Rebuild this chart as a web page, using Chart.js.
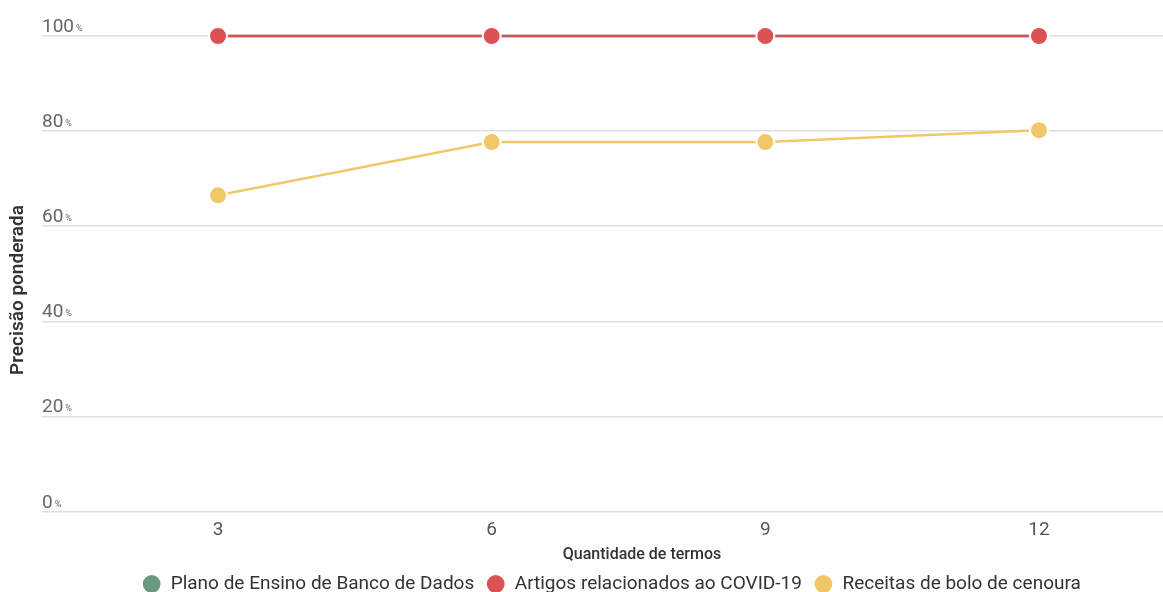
<!DOCTYPE html>
<html>
<head>
<meta charset="utf-8">
<script src="https://cdn.jsdelivr.net/npm/chart.js@4/dist/chart.umd.min.js"></script>
<style>
  html, body { margin: 0; padding: 0; background: #fff; overflow: hidden; }
  #wrap { width: 1163px; height: 592px; position: relative; }
</style>
</head>
<body>
<div id="wrap"><canvas id="chart"></canvas></div>
<script>
// Precisão ponderada x quantidade de termos

const termos = [3, 6, 9, 12];
const planoEnsino = [100, 100, 100, 100];
const artigosCovid = [100, 100, 100, 100];
const receitasBolo = [66.5, 77.7, 77.7, 80.2];
const yTicks = [0, 20, 40, 60, 80, 100];

// the big points should not shrink the plot area (grid runs to the edge)
Chart.registry.getController('line').prototype.getMaxOverflow = function () { return 0; };

function toPoints(values) {
    return termos.map((t, i) => ({ x: t, y: values[i] }));
}

function makeSeries(label, values, color, order) {
    return {
        label: label,
        data: toPoints(values),
        borderColor: color,
        backgroundColor: color,
        pointBackgroundColor: color,
        pointBorderColor: '#ffffff',
        pointBorderWidth: 2,
        pointRadius: 9,
        pointHoverRadius: 9,
        borderWidth: 2.5,
        tension: 0,
        clip: false,
        order: order
    };
}

// y labels sit just above their grid line, with a small "%"; axis titles too
const axisText = {
    id: 'axisText',
    beforeUpdate(chart) {
        // legend: keep item spacing but a shorter box, shifted a bit right
        const lg = chart.legend;
        if (lg && !lg._patched) {
            const fit = lg.fit;
            lg.fit = function () {
                fit.call(this);
                this.height = 29.5;
            };
            const draw = lg.draw;
            lg.draw = function () {
                this.ctx.save();
                this.ctx.translate(30, 0);
                draw.call(this);
                this.ctx.restore();
            };
            lg._patched = true;
        }
    },
    afterDraw(chart) {
        const ctx = chart.ctx;
        const y = chart.scales.y;
        const x = chart.scales.x;
        const left = 42;
        ctx.save();
        ctx.fillStyle = '#666';
        ctx.textBaseline = 'alphabetic';
        ctx.textAlign = 'left';
        yTicks.forEach(v => {
            const py = y.getPixelForValue(v) - 4;
            ctx.font = '19px Roboto';
            const txt = String(v);
            ctx.fillText(txt, left, py);
            const w = ctx.measureText(txt).width;
            ctx.font = '9px Roboto';
            ctx.fillText('%', left + w + 2, py - 1);
        });
        // x title
        ctx.fillStyle = '#333';
        ctx.textAlign = 'center';
        ctx.textBaseline = 'middle';
        ctx.font = '500 16px Roboto';
        ctx.fillText('Quantidade de termos', 642, x.bottom - 8);
        // y title
        ctx.translate(18, 290);
        ctx.rotate(-Math.PI / 2);
        ctx.font = '600 19px Roboto';
        ctx.fillText('Precisão ponderada', 0, 0);
        ctx.restore();
    }
};

new Chart(document.getElementById('chart'), {
    type: 'line',
    data: {
        datasets: [
            makeSeries('Plano de Ensino de Banco de Dados', planoEnsino, '#6b9a80', 3),
            makeSeries('Artigos relacionados ao COVID-19', artigosCovid, '#dc5254', 2),
            makeSeries('Receitas de bolo de cenoura', receitasBolo, '#f0c86a', 1)
        ]
    },
    options: {
        responsive: true,
        maintainAspectRatio: false,
        animation: false,
        layout: { padding: { top: 36, right: 0, left: 0, bottom: 0 } },
        plugins: {
            legend: {
                position: 'bottom',
                labels: {
                    usePointStyle: true,
                    pointStyle: 'circle',
                    boxWidth: 20,
                    boxHeight: 14,
                    padding: 12,
                    color: '#333',
                    font: { family: 'Roboto', size: 19 },
                    sort: (a, b) => a.datasetIndex - b.datasetIndex
                }
            },
            tooltip: { enabled: false }
        },
        scales: {
            x: {
                type: 'linear',
                min: 1.07,
                max: 13.36,
                afterBuildTicks(scale) {
                    scale.ticks = termos.map(v => ({ value: v }));
                },
                afterFit(scale) {
                    scale.paddingLeft = 0;
                    scale.paddingRight = 0;
                    scale.height = 51;
                },
                grid: { display: false, drawTicks: false },
                border: { display: false },
                ticks: {
                    color: '#555',
                    padding: 7,
                    font: { family: 'Roboto', size: 19 }
                }
            },
            y: {
                min: 0,
                max: 100,
                afterBuildTicks(scale) {
                    scale.ticks = yTicks.map(v => ({ value: v }));
                },
                afterFit(scale) {
                    scale.width = 42;
                },
                grid: { color: '#e0e0e0', lineWidth: 1.5, drawTicks: false },
                border: { display: false },
                ticks: { display: false }
            }
        }
    },
    plugins: [axisText]
});
</script>
</body>
</html>
